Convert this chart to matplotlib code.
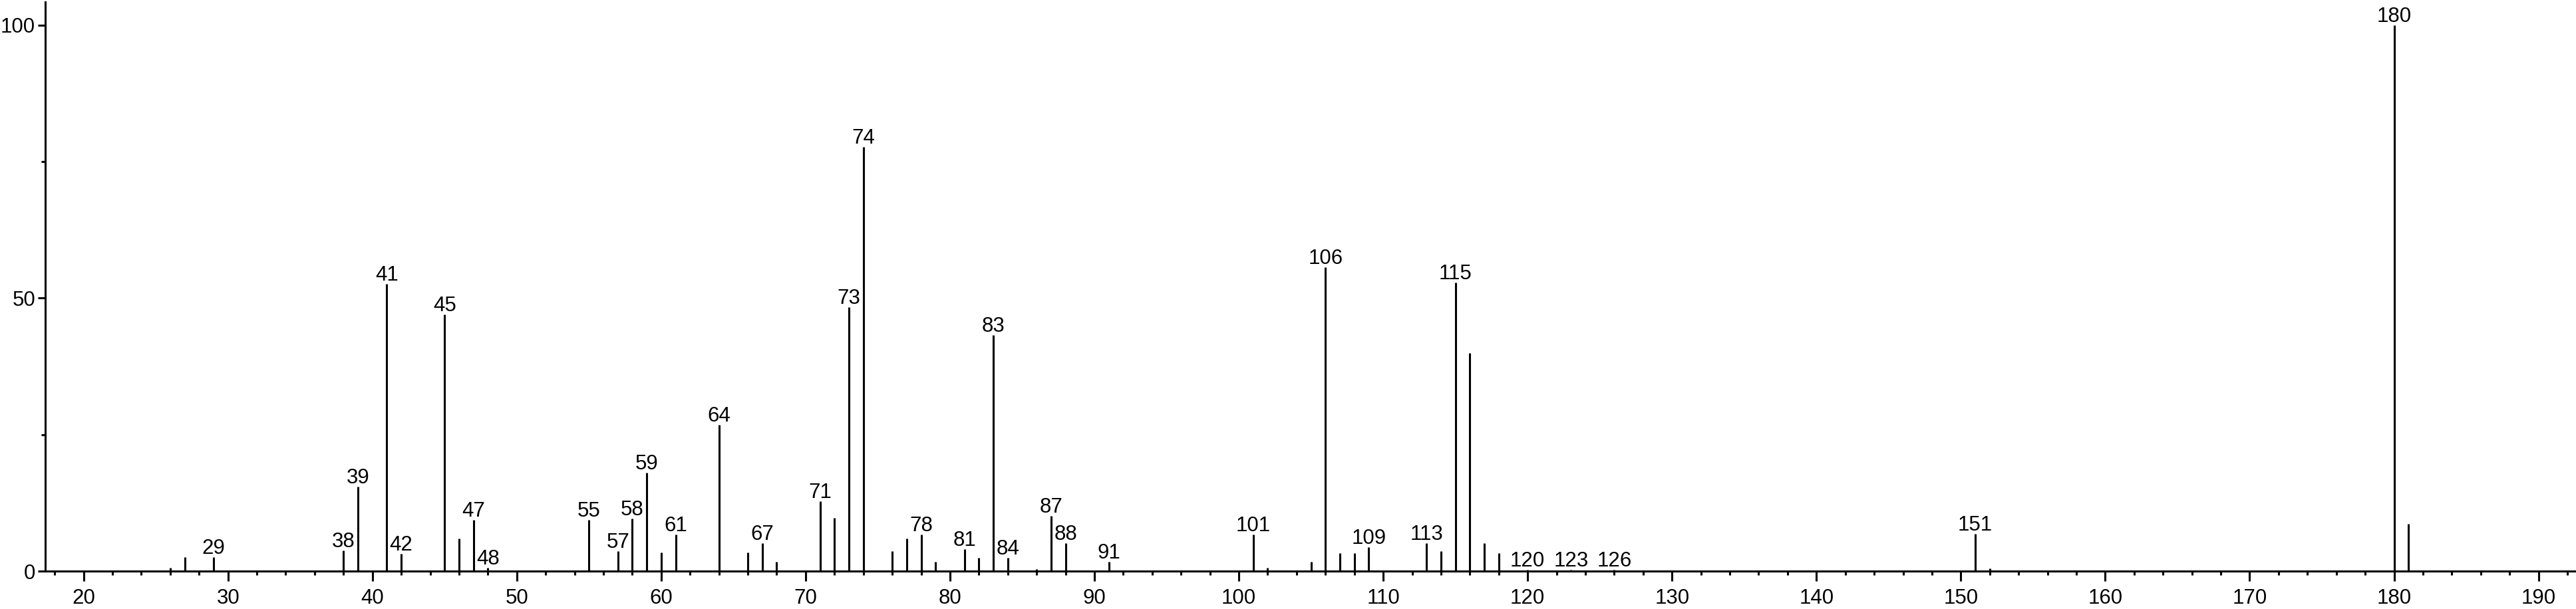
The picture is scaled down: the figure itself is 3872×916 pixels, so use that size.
import matplotlib
matplotlib.use("Agg")
import matplotlib.pyplot as plt
from matplotlib.ticker import MultipleLocator

plt.rcParams['font.family'] = ['Liberation Sans', 'DejaVu Sans']

# m/z and relative intensity
mz = [26, 27, 29, 38, 39, 41, 42, 45, 46, 47, 48, 55, 57, 58, 59, 60, 61, 64,
      66, 67, 68, 71, 72, 73, 74, 76, 77, 78, 79, 81, 82, 83, 84, 86, 87, 88,
      91, 101, 102, 105, 106, 107, 108, 109, 113, 114, 115, 116, 117, 118,
      120, 123, 126, 151, 152, 180, 181]
intensity = [0.7, 2.65, 2.65, 3.8, 15.5, 52.6, 3.2, 47.0, 6.0, 9.4, 0.6, 9.4,
             3.7, 9.7, 18.1, 3.4, 6.7, 26.8, 3.4, 5.1, 1.8, 12.8, 9.8, 48.4,
             77.7, 3.7, 6.0, 6.7, 1.8, 4.1, 2.5, 43.2, 2.5, 0.4, 10.1, 5.1,
             1.8, 6.7, 0.6, 1.7, 55.7, 3.3, 3.3, 4.4, 5.2, 3.7, 52.9, 40.0,
             5.2, 3.3, 0.3, 0.3, 0.3, 6.8, 0.5, 100.0, 8.7]
labeled = [29, 38, 39, 41, 42, 45, 47, 48, 55, 57, 58, 59, 61, 64, 67, 71, 73,
           74, 78, 81, 83, 84, 87, 88, 91, 101, 106, 109, 113, 115, 120, 123,
           126, 151, 180]

fig = plt.figure(figsize=(38.72, 9.16), dpi=100)
ax = fig.add_axes([0.01764, 0.0619, 1 - 0.01764, 0.9348])

ax.vlines(mz, 0, intensity, colors='black', linewidth=2.2)

for m, v in zip(mz, intensity):
    if m in labeled:
        ax.annotate(str(m), (m, v), xytext=(0, 3.6), textcoords='offset points',
                    ha='center', va='baseline', fontsize=22.5, clip_on=False)

ax.set_xlim(17.36, 192.6)
ax.set_ylim(0, 104.22)

ax.spines['top'].set_visible(False)
ax.spines['right'].set_visible(False)
ax.spines['left'].set_linewidth(2.2)
ax.spines['bottom'].set_linewidth(2.2)

ax.xaxis.set_major_locator(MultipleLocator(10))
ax.xaxis.set_minor_locator(MultipleLocator(2))
ax.yaxis.set_major_locator(MultipleLocator(50))
ax.yaxis.set_minor_locator(MultipleLocator(25))

ax.tick_params(axis='x', which='major', length=10.8, width=2.2, pad=7.5,
               labelsize=22.5)
ax.tick_params(axis='x', which='minor', length=4.3, width=2.2)
ax.tick_params(axis='y', which='major', length=7.9, width=2.2, pad=3,
               labelsize=22.5)
ax.tick_params(axis='y', which='minor', length=4.3, width=2.2)

fig.savefig('out.png', dpi=100)
